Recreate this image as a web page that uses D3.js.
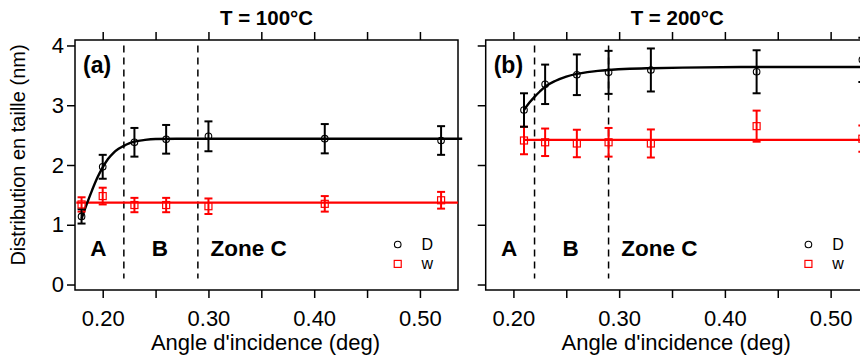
<!DOCTYPE html>
<head>
  <meta charset="utf-8">
  <script src="https://d3js.org/d3.v7.min.js"></script>
  <style>
    body { margin: 0; background: #fff; }
    svg { display: block; font-family: 'Liberation Sans', Arial, sans-serif; }
    .axis path { display: none; }
    .axis line { stroke: #000; stroke-width: 1.5px; }
    .axis text { font-size: 22px; fill: #000; }
    .frame { fill: none; stroke: #000; stroke-width: 1.5px; }
    .fit { fill: none; stroke-width: 2.4px; }
    .err { stroke-width: 2px; }
    .zone { stroke: #000; stroke-width: 1.5px; stroke-dasharray: 7,5; }
    .bold { font-weight: bold; }
  </style>
</head>
<body>
<svg width="860" height="358"></svg>
<script>

// ---- data ----
var xTicks = [0.20, 0.25, 0.30, 0.35, 0.40, 0.45, 0.50];
var yTicks = [0, 1, 2, 3, 4];
var zoneLines = [0.22, 0.29];
var zoneNames = ["A", "B", "Zone C"];
var legendNames = ["D", "w"];
var titles = ["T = 100\u00b0C", "T = 200\u00b0C"];
var panelTags = ["(a)", "(b)"];

// T = 100 C
var angleA = [0.18, 0.20, 0.23, 0.26, 0.30, 0.41, 0.52];
var dA = [1.14, 1.97, 2.38, 2.43, 2.48, 2.44, 2.41];
var dErrA = [0.12, 0.20, 0.24, 0.24, 0.25, 0.245, 0.24];
var wA = [1.34, 1.48, 1.33, 1.33, 1.31, 1.35, 1.41];
var wErrA = [0.12, 0.14, 0.12, 0.12, 0.13, 0.13, 0.14];
var fitAngleA = [0.180, 0.185, 0.190, 0.195, 0.200, 0.205, 0.210, 0.215, 0.220, 0.225, 0.230, 0.240, 0.250, 0.270, 0.540];
var fitDA = [1.10, 1.35, 1.58, 1.79, 1.96, 2.10, 2.20, 2.27, 2.32, 2.36, 2.39, 2.42, 2.435, 2.44, 2.44];
var fitWAngleA = [0.175, 0.536];
var fitWA = [1.37, 1.37];

// T = 200 C
var angleB = [0.21, 0.23, 0.26, 0.29, 0.33, 0.43, 0.53];
var dB = [2.92, 3.35, 3.51, 3.55, 3.59, 3.56, 3.76];
var dErrB = [0.28, 0.33, 0.34, 0.36, 0.36, 0.36, 0.37];
var wB = [2.41, 2.38, 2.36, 2.38, 2.36, 2.65, 2.44];
var wErrB = [0.23, 0.23, 0.23, 0.24, 0.235, 0.26, 0.22];
var fitAngleB = [0.210, 0.215, 0.220, 0.225, 0.230, 0.240, 0.250, 0.260, 0.270, 0.280, 0.290, 0.310, 0.330, 0.360, 0.430, 0.540];
var fitDB = [2.92, 3.04, 3.14, 3.23, 3.31, 3.41, 3.48, 3.525, 3.555, 3.575, 3.59, 3.61, 3.62, 3.63, 3.64, 3.64];
var fitWAngleB = [0.21, 0.54];
var fitWB = [2.42, 2.42];

var panels = [
  {left: 75, angle: angleA, d: dA, dErr: dErrA, w: wA, wErr: wErrA,
   fitX: fitAngleA, fitD: fitDA, fitWX: fitWAngleA, fitW: fitWA, yLabels: true},
  {left: 485.7, angle: angleB, d: dB, dErr: dErrB, w: wB, wErr: wErrB,
   fitX: fitAngleB, fitD: fitDB, fitWX: fitWAngleB, fitW: fitWB, yLabels: false}
];

var pw = 383, plotTop = 40, plotBottom = 290;
var svg = d3.select("svg");

var y = d3.scaleLinear().domain([-0.1, 4.1]).range([290.5, 39.5]);

panels.forEach(function(p, k) {
  var x = d3.scaleLinear().domain([0.1738, 0.536]).range([p.left, p.left + pw]);
  var g = svg.append("g");
  var cap = 4;

  // axes
  g.append("g").attr("class", "axis")
      .attr("transform", "translate(0," + plotBottom + ")")
      .call(d3.axisBottom(x).tickValues(xTicks).tickSize(8).tickPadding(12)
        .tickFormat(function(d) { return Math.round(d * 100) % 10 === 0 ? d3.format(".2f")(d) : ""; }));
  g.append("g").attr("class", "axis")
      .attr("transform", "translate(0," + plotTop + ")")
      .call(d3.axisTop(x).tickValues(xTicks).tickSize(8).tickFormat(""));
  g.append("g").attr("class", "axis")
      .attr("transform", "translate(" + p.left + ",0)")
      .call(d3.axisLeft(y).tickValues(yTicks).tickSize(8).tickPadding(3)
        .tickFormat(p.yLabels ? d3.format("d") : ""));

  g.append("rect").attr("class", "frame")
      .attr("x", p.left).attr("y", plotTop).attr("width", pw).attr("height", plotBottom - plotTop);

  // zone separators
  g.selectAll(".zone").data(zoneLines).enter().append("line")
      .attr("class", "zone")
      .attr("x1", function(d) { return x(d); }).attr("x2", function(d) { return x(d); })
      .attr("y1", y(4.0)).attr("y2", y(0.1));

  var line = d3.line()
      .x(function(d) { return x(d[0]); })
      .y(function(d) { return y(d[1]); })
      .curve(d3.curveMonotoneX);

  g.append("path").attr("class", "fit").attr("stroke", "#ff0000")
      .attr("d", line(d3.zip(p.fitWX, p.fitW)));
  g.append("path").attr("class", "fit").attr("stroke", "#000")
      .attr("d", line(d3.zip(p.fitX, p.fitD)));

  function errorBars(vals, errs, color) {
    var rows = d3.zip(p.angle, vals, errs);
    var e = g.append("g").attr("stroke", color).attr("class", "err");
    e.selectAll(".v").data(rows).enter().append("line")
        .attr("x1", function(d) { return x(d[0]); }).attr("x2", function(d) { return x(d[0]); })
        .attr("y1", function(d) { return y(d[1] - d[2]); }).attr("y2", function(d) { return y(d[1] + d[2]); });
    e.selectAll(".t").data(rows).enter().append("line")
        .attr("x1", function(d) { return x(d[0]) - cap; }).attr("x2", function(d) { return x(d[0]) + cap; })
        .attr("y1", function(d) { return y(d[1] + d[2]); }).attr("y2", function(d) { return y(d[1] + d[2]); });
    e.selectAll(".b").data(rows).enter().append("line")
        .attr("x1", function(d) { return x(d[0]) - cap; }).attr("x2", function(d) { return x(d[0]) + cap; })
        .attr("y1", function(d) { return y(d[1] - d[2]); }).attr("y2", function(d) { return y(d[1] - d[2]); });
  }
  errorBars(p.w, p.wErr, "#ff0000");
  errorBars(p.d, p.dErr, "#000");

  g.selectAll(".sq").data(d3.zip(p.angle, p.w)).enter().append("rect")
      .attr("x", function(d) { return x(d[0]) - 3.5; })
      .attr("y", function(d) { return y(d[1]) - 3.5; })
      .attr("width", 7).attr("height", 7)
      .attr("fill", "none").attr("stroke", "#ff0000").attr("stroke-width", 1.2);
  g.selectAll(".ci").data(d3.zip(p.angle, p.d)).enter().append("circle")
      .attr("cx", function(d) { return x(d[0]); })
      .attr("cy", function(d) { return y(d[1]); })
      .attr("r", 3.3)
      .attr("fill", "none").attr("stroke", "#000").attr("stroke-width", 1.1);

  // zone letters
  var zx = [0.196, 0.254, 0.302];
  g.selectAll(".zn").data(zoneNames).enter().append("text")
      .attr("class", "bold")
      .attr("x", function(d, i) { return x(zx[i]); })
      .attr("y", y(0.475))
      .attr("text-anchor", function(d, i) { return i < 2 ? "middle" : "start"; })
      .style("font-size", "22.5px")
      .text(function(d) { return d; });

  // legend
  g.append("circle").attr("cx", x(0.479)).attr("cy", y(0.67)).attr("r", 3.3)
      .attr("fill", "none").attr("stroke", "#000").attr("stroke-width", 1.1);
  g.append("rect").attr("x", x(0.479) - 3.5).attr("y", y(0.345) - 3.5)
      .attr("width", 7).attr("height", 7)
      .attr("fill", "none").attr("stroke", "#ff0000").attr("stroke-width", 1.2);
  g.selectAll(".lg").data(legendNames).enter().append("text")
      .attr("x", x(0.5016))
      .attr("y", function(d, i) { return i === 0 ? y(0.67) + 5.5 : y(0.345) + 5; })
      .style("font-size", "16px")
      .text(function(d) { return d; });

  // titles and tags
  g.append("text").attr("class", "bold")
      .attr("x", p.left + pw / 2).attr("y", 25)
      .attr("text-anchor", "middle").style("font-size", "20.5px")
      .text(titles[k]);
  g.append("text").attr("class", "bold")
      .attr("x", p.left + 8).attr("y", 72.5)
      .style("font-size", "23px")
      .text(panelTags[k]);
  g.append("text")
      .attr("x", p.left + pw / 2 - 1).attr("y", 350)
      .attr("text-anchor", "middle").style("font-size", "22px")
      .text("Angle d'incidence (deg)");
});

svg.append("text")
    .attr("transform", "translate(25,155) rotate(-90)")
    .attr("text-anchor", "middle")
    .style("font-size", "20px")
    .text("Distribution en taille (nm)");

</script>
</body>
